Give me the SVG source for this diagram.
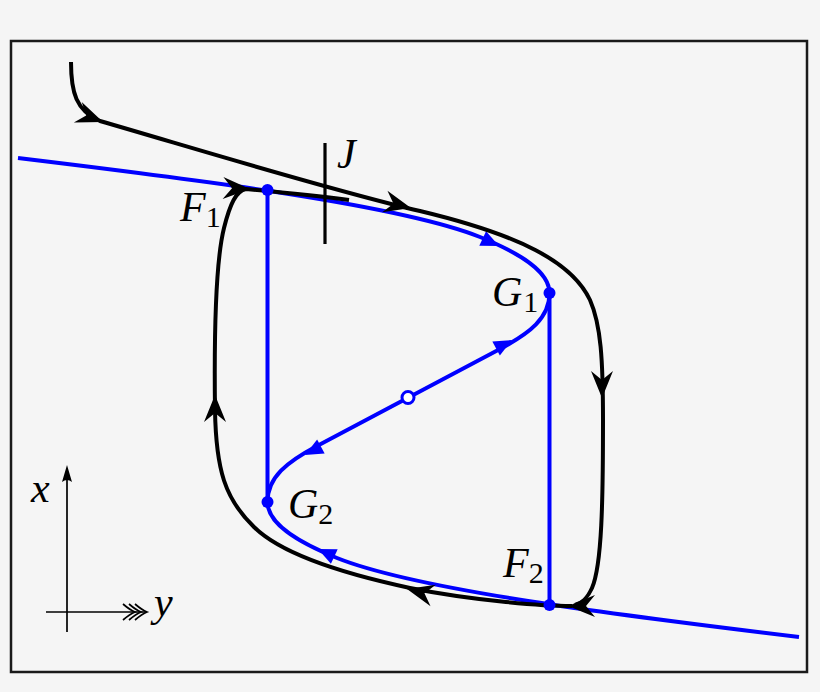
<svg xmlns="http://www.w3.org/2000/svg" width="820" height="692" viewBox="0 0 820 692">
<defs>
<style>
.bl{fill:none;stroke:#0000ff;stroke-width:4;stroke-linecap:butt}
.bk{fill:none;stroke:#000;stroke-width:4}
.ax{fill:none;stroke:#000;stroke-width:1.7}
.bah{fill:#0000ff}
.kah{fill:#000}
.lbl{font-family:"Liberation Serif","Times New Roman",serif;font-style:italic;font-size:42px;fill:#000}
.sub{font-style:normal;font-size:30px}
</style>
<path id="kh" d="M0,0 L-27,-11 L-18,0 L-27,11 Z"/>
<path id="bh" d="M0,0 L-18,-8 L-18,8 Z"/>
</defs>
<rect x="0" y="0" width="820" height="692" fill="#f5f5f5"/>
<rect x="11" y="41" width="796" height="631" fill="none" stroke="#1a1a1a" stroke-width="2.5"/>

<g id="connectors">
  <g id="manifold">
    <path class="bl" d="M18,158 C 200,180 400,205 480,237 C 522,254 549.5,272 549.5,293"/>
    <path class="bl" d="M18,158 C 200,180 400,205 480,237 C 522,254 549.5,272 549.5,293" transform="rotate(180 408.5 397.5)"/>
    <path class="bl" d="M549.5,293 C 549.5,318 530,333 500,349 L 317,446 C 287,462 267.5,477 267.5,502"/>
    <line class="bl" x1="267.5" y1="190" x2="267.5" y2="502"/>
    <line class="bl" x1="549.5" y1="293" x2="549.5" y2="605"/>
    <use href="#bh" class="bah" transform="translate(499,246) rotate(25)"/>
    <use href="#bh" class="bah" transform="translate(512,340) rotate(-28)"/>
    <use href="#bh" class="bah" transform="translate(305,455) rotate(152)"/>
    <use href="#bh" class="bah" transform="translate(318,549) rotate(205)"/>
  </g>
  <g id="trajectory">
    <path class="bk" d="M71,62 C 71,92 76,111 100,121 C 200,150 330,190 420,211 C 520,235 572,262 590,300 C 601,325 603,360 603,420 C 603,500 602,565 592,588 C 587,599 582,603 575,605"/>
    <path class="bk" d="M572,606 C 540,606 470,600 410,588 C 340,573 280,553 254,527 C 225,499 216,470 215,410 C 214,330 216,260 224,228 C 230,204 236,191 246,189 C 280,192 320,196 349,200"/>
    <use href="#kh" class="kah" transform="translate(103,122) rotate(21)"/>
    <use href="#kh" class="kah" transform="translate(411,208) rotate(14)"/>
    <use href="#kh" class="kah" transform="translate(602,398) rotate(90)"/>
    <use href="#kh" class="kah" transform="translate(568,606) rotate(180)"/>
    <use href="#kh" class="kah" transform="translate(407,589) rotate(194)"/>
    <use href="#kh" class="kah" transform="translate(215,395) rotate(-90)"/>
    <use href="#kh" class="kah" transform="translate(250,189) rotate(2)"/>
  </g>
</g>

<g id="section-J">
  <line x1="325" y1="143" x2="325" y2="244" stroke="#000" stroke-width="3.2"/>
  <text class="lbl" x="337" y="168">J</text>
</g>

<g id="F1">
  <circle cx="267.5" cy="190" r="6" fill="#0000ff"/>
  <text class="lbl" x="180" y="221">F<tspan class="sub" dy="6">1</tspan></text>
</g>
<g id="G1">
  <circle cx="549.5" cy="293" r="6" fill="#0000ff"/>
  <text class="lbl" x="492" y="306">G<tspan class="sub" dx="1" dy="6">1</tspan></text>
</g>
<g id="G2">
  <circle cx="267.5" cy="502" r="6" fill="#0000ff"/>
  <text class="lbl" x="288" y="518">G<tspan class="sub" dy="6">2</tspan></text>
</g>
<g id="F2">
  <circle cx="549.5" cy="605" r="6" fill="#0000ff"/>
  <text class="lbl" x="503" y="577">F<tspan class="sub" dy="6">2</tspan></text>
</g>
<g id="equilibrium">
  <circle cx="408" cy="397.5" r="6" fill="#ffffff" stroke="#0000ff" stroke-width="3"/>
</g>

<g id="axes">
  <line class="ax" x1="67" y1="632" x2="67" y2="478"/>
  <path d="M67,465 L62,482 Q67,478 72,482 Z" fill="#000"/>
  <line class="ax" x1="46" y1="612" x2="146" y2="612"/>
  <path class="ax" d="M123,604 Q130,610 135,612 Q130,614 123,620"/>
  <path class="ax" d="M129,604 Q136,610 141,612 Q136,614 129,620"/>
  <path class="ax" d="M135,604 Q142,610 147,612 Q142,614 135,620"/>
  <text class="lbl" x="31" y="502">x</text>
  <text class="lbl" x="154" y="616">y</text>
</g>
</svg>
